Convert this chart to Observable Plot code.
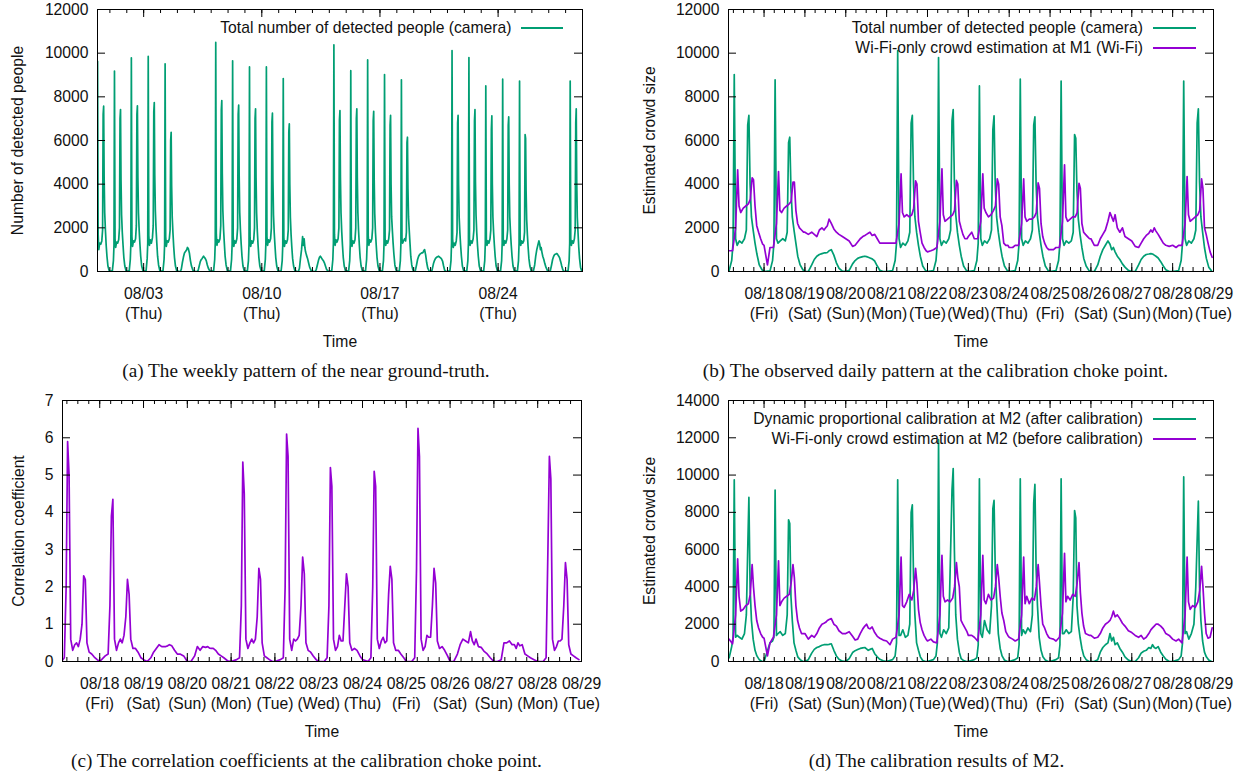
<!DOCTYPE html>
<html><head><meta charset="utf-8">
<script src="https://cdn.jsdelivr.net/npm/d3@7"></script>
<script src="https://cdn.jsdelivr.net/npm/@observablehq/plot@0.6"></script>
<style>
html,body{margin:0;padding:0;background:#fff;}
#page{position:relative;width:1245px;height:775px;overflow:hidden;background:#fff;}
.panel{position:absolute;}
.caption{position:absolute;font-family:"Liberation Serif","Times New Roman",serif;font-size:19.2px;color:#111;white-space:nowrap;transform:translate(-50%,-50%);}
.legtext{position:absolute;font-family:"Liberation Sans",Arial,sans-serif;font-size:15.7px;color:#111;white-space:nowrap;transform:translate(-100%,-50%);}
.legline{position:absolute;height:2px;}
</style></head><body><div id="page"></div>
<script>
// ---------- colours ----------
const GREEN = "#009e73", PURPLE = "#9400d3";

// ---------- sampling hours of the read values (hours of the day) ----------
const hoursCamera  = [0, 3.5, 5.0, 5.8, 6.5, 7.3, 8.2, 9.5, 11, 12.5, 13.6, 14.4, 15.1, 15.8, 16.6, 17.6, 18.7, 19.8, 21.2, 22.8];
const hoursWifi    = [0, 2.0, 3.5, 5.5, 7.3, 8.5, 9.3, 10.3, 11.8, 13.3, 14.8, 15.9, 17.0, 17.8, 18.7, 19.7, 20.8, 22.0, 23.2];
const hoursCorr    = [0, 3.0, 4.6, 5.6, 6.4, 7.2, 8.1, 9.2, 10.3, 11.3, 12.3, 13.3, 14.3, 15.2, 16.1, 17.0, 18.2, 19.6, 21.0, 22.6];
const hoursWeekend = [0, 2, 4, 5.5, 7, 8.5, 10, 11.2, 12.2, 13.2, 14.2, 15.5, 17, 18.5, 20, 22];

// ---------- camera: total number of detected people, 07/31 (Mon) .. 08/28 (Mon) ----------
const cameraRows = [
  [0, 50, 600, 1300, 9630, 1700, 1000, 1300, 1250, 1400, 1900, 7200, 7570, 4300, 2700, 1900, 1200, 700, 250, 60],   // 07/31 Mon
  [0, 40, 500, 1200, 9180, 1500, 1100, 1350, 1300, 1450, 2000, 7000, 7420, 4200, 2600, 1800, 1200, 650, 250, 50],   // 08/01
  [0, 40, 550, 1250, 9790, 1600, 1150, 1400, 1350, 1500, 2100, 7200, 7590, 4300, 2700, 1900, 1250, 700, 250, 60],   // 08/02
  [0, 50, 600, 1300, 9850, 1650, 1200, 1450, 1300, 1550, 2100, 7300, 7740, 4400, 2800, 1950, 1300, 700, 300, 60],   // 08/03
  [0, 40, 550, 1250, 9510, 1600, 1150, 1400, 1350, 1500, 1900, 6000, 6370, 3900, 2500, 1800, 1150, 650, 250, 50],   // 08/04
  [30, 0, 0, 100, 400, 650, 850, 900, 950, 1000, 1100, 1050, 850, 500, 250, 60],                                      // 08/05 Sat
  [20, 0, 0, 50, 250, 450, 550, 600, 650, 700, 650, 600, 500, 300, 150, 30],                                          // 08/06 Sun
  [0, 40, 550, 1300, 10490, 1700, 1200, 1450, 1350, 1500, 2100, 7400, 7830, 4500, 2800, 1950, 1300, 700, 300, 60],  // 08/07
  [0, 40, 550, 1250, 9650, 1600, 1150, 1400, 1300, 1500, 2000, 7200, 7620, 4400, 2700, 1900, 1250, 700, 250, 50],   // 08/08
  [0, 40, 500, 1250, 9370, 1550, 1150, 1400, 1300, 1450, 2000, 7000, 7450, 4300, 2700, 1850, 1200, 650, 250, 50],   // 08/09
  [0, 40, 550, 1300, 9370, 1600, 1200, 1450, 1350, 1500, 2000, 6850, 7250, 4200, 2600, 1800, 1200, 650, 250, 50],   // 08/10
  [0, 40, 500, 1200, 8840, 1550, 1150, 1400, 1300, 1450, 1900, 6400, 6760, 4000, 2500, 1700, 1100, 600, 250, 50],   // 08/11
  [30, 0, 0, 150, 600, 1000, 1600, 1200, 1500, 1100, 900, 750, 600, 400, 200, 50],                                   // 08/12 Sat
  [20, 0, 0, 100, 300, 500, 650, 700, 650, 600, 550, 500, 400, 250, 100, 20],                                        // 08/13 Sun
  [0, 40, 550, 1300, 10380, 1700, 1200, 1450, 1350, 1500, 2000, 6950, 7370, 4300, 2700, 1850, 1200, 650, 250, 50],  // 08/14
  [0, 40, 500, 1250, 9200, 1600, 1150, 1400, 1300, 1450, 2000, 7000, 7450, 4300, 2700, 1850, 1200, 650, 250, 50],   // 08/15
  [0, 40, 550, 1300, 9690, 1650, 1200, 1450, 1350, 1500, 2000, 6900, 7340, 4200, 2650, 1800, 1200, 650, 250, 50],   // 08/16
  [0, 40, 500, 1300, 9020, 1500, 1200, 1400, 1300, 1500, 1900, 6700, 7150, 4000, 2500, 1900, 1300, 800, 300, 80],   // 08/17
  [0, 30, 500, 1300, 8780, 1500, 1300, 1400, 1500, 1400, 1800, 5900, 6150, 3800, 2500, 1900, 1300, 700, 300, 80],   // 08/18
  [0, 0, 300, 550, 700, 780, 820, 850, 850, 870, 950, 1000, 750, 400, 150, 20],                                      // 08/19 Sat
  [0, 50, 350, 500, 600, 650, 680, 700, 680, 650, 620, 580, 480, 250, 60, 0],                                        // 08/20 Sun
  [0, 40, 500, 1300, 10120, 1500, 1100, 1300, 1200, 1400, 1800, 6800, 7150, 4000, 2500, 1800, 1200, 700, 250, 50],  // 08/21
  [0, 40, 500, 1300, 9800, 1500, 1200, 1400, 1300, 1500, 1900, 6900, 7420, 4100, 2600, 1800, 1200, 700, 250, 50],   // 08/22
  [0, 40, 500, 1300, 8500, 1500, 1200, 1400, 1300, 1500, 1900, 6500, 7130, 4000, 2500, 1800, 1200, 700, 250, 50],   // 08/23
  [0, 40, 500, 1300, 8810, 1500, 1200, 1400, 1300, 1500, 1900, 6700, 7080, 4000, 2500, 1800, 1200, 700, 250, 50],   // 08/24
  [0, 40, 500, 1300, 8720, 1500, 1200, 1400, 1300, 1400, 1800, 6270, 6100, 3700, 2400, 1700, 1100, 600, 250, 50],   // 08/25
  [0, 0, 300, 700, 1000, 1200, 1400, 1250, 1000, 1100, 900, 700, 550, 350, 200, 50],                                 // 08/26 Sat
  [0, 0, 300, 550, 700, 780, 800, 820, 800, 750, 700, 620, 450, 250, 80, 0],                                         // 08/27 Sun
  [0, 40, 500, 1300, 8720, 1500, 1200, 1400, 1300, 1500, 1900, 6800, 7450, 4100, 2500, 1800, 1100, 600, 200, 30]    // 08/28
];

// ---------- Wi-Fi-only crowd estimation at M1, 08/17 .. 08/28 ----------
const wifiM1Rows = [
  [1000, 1000, 950, 950, 2000, 4660, 3000, 2700, 2900, 3000, 3100, 3300, 4290, 4200, 3000, 2100, 1800, 1500, 1250],
  [1200, 300, 1100, 1100, 2200, 4580, 2800, 2700, 2900, 3000, 3100, 3200, 4100, 4100, 2800, 2200, 2000, 1900, 1800],
  [1800, 1700, 1800, 1700, 1600, 1900, 2000, 1900, 2000, 2100, 2400, 2200, 1950, 1800, 1700, 1600],
  [1500, 1400, 1150, 1200, 1350, 1500, 1600, 1650, 1700, 1750, 1800, 1650, 1700, 1500, 1300, 1300],
  [1300, 1300, 1300, 1300, 2200, 4470, 2700, 2500, 2600, 2500, 2600, 2900, 4150, 4000, 2300, 1800, 1300, 1100, 950],
  [900, 950, 1000, 1100, 2300, 4700, 2600, 2300, 2400, 2500, 2600, 2800, 4170, 4000, 2300, 2000, 1700, 1500, 1500],
  [1600, 1800, 1500, 1500, 2300, 4470, 2900, 2700, 2500, 2600, 2800, 3000, 4240, 4000, 2500, 2100, 1300, 1200, 1200],
  [1100, 1100, 1200, 1200, 2200, 4240, 2500, 2300, 2400, 2400, 2500, 2700, 4060, 3800, 2200, 1600, 1300, 1100, 1000],
  [1000, 1000, 1100, 1100, 2300, 4890, 2500, 2300, 2400, 2500, 2500, 2700, 4040, 3800, 2200, 1800, 1700, 1600, 1500],
  [1500, 1200, 1200, 1500, 1700, 1900, 2300, 2700, 2500, 2300, 2600, 2000, 1800, 2000, 1600, 1500],
  [1400, 1150, 1100, 1300, 1500, 1650, 1750, 1900, 1800, 2000, 1850, 1700, 1500, 1300, 1200, 1150],
  [1200, 1100, 1200, 1200, 2200, 4350, 2600, 2300, 2400, 2500, 2600, 2800, 4240, 3800, 2000, 1700, 1300, 900, 650]
];

// ---------- correlation coefficient, 08/17 .. 08/28 ----------
const corrRows = [
  [0, 0, 0.1, 2.0, 5.9, 5.0, 0.6, 0.3, 0.45, 0.5, 0.4, 0.6, 1.0, 2.3, 2.2, 0.5, 0.25, 0.2, 0.12, 0.05],
  [0, 0.15, 0.2, 1.5, 3.9, 4.35, 0.6, 0.3, 0.5, 0.6, 0.5, 0.7, 1.2, 2.2, 1.8, 0.6, 0.35, 0.35, 0.25, 0.1],
  [0.05, 0, 0.1, 0.25, 0.35, 0.45, 0.4, 0.4, 0.4, 0.42, 0.45, 0.42, 0.3, 0.2, 0.2, 0.15],
  [0, 0, 0.15, 0.4, 0.3, 0.4, 0.38, 0.4, 0.36, 0.35, 0.35, 0.3, 0.2, 0.15, 0.1, 0.02],
  [0, 0.05, 0.1, 1.5, 5.35, 4.5, 0.6, 0.35, 0.5, 0.6, 0.5, 0.6, 1.2, 2.5, 2.2, 0.5, 0.15, 0.1, 0.05, 0],
  [0, 0.05, 0.1, 2.0, 6.1, 5.5, 0.6, 0.3, 0.6, 0.55, 0.6, 0.7, 1.5, 2.8, 2.35, 0.5, 0.3, 0.25, 0.15, 0.05],
  [0, 0, 0.1, 1.5, 5.2, 4.7, 0.6, 0.3, 0.4, 0.7, 0.55, 0.55, 1.5, 2.35, 2.0, 0.5, 0.3, 0.35, 0.3, 0.15],
  [0.05, 0, 0.1, 2.0, 5.1, 4.7, 0.6, 0.35, 0.55, 0.65, 0.5, 0.55, 1.8, 2.55, 2.2, 0.5, 0.3, 0.3, 0.2, 0.1],
  [0, 0, 0.1, 2.5, 6.25, 5.5, 0.6, 0.3, 0.4, 0.7, 0.65, 0.65, 1.5, 2.5, 2.1, 0.55, 0.35, 0.4, 0.3, 0.15],
  [0, 0, 0.2, 0.45, 0.6, 0.55, 0.5, 0.8, 0.55, 0.45, 0.6, 0.4, 0.38, 0.28, 0.22, 0.1],
  [0, 0, 0.05, 0.5, 0.5, 0.55, 0.45, 0.45, 0.35, 0.5, 0.42, 0.45, 0.2, 0.15, 0.1, 0.05],
  [0, 0, 0.1, 3.0, 5.5, 4.9, 0.6, 0.3, 0.4, 0.55, 0.55, 0.6, 1.5, 2.65, 2.2, 0.45, 0.2, 0.15, 0.1, 0.05]
];

// ---------- dynamic proportional calibration at M2 (after), 08/17 .. 08/28 ----------
const calibratedRows = [
  [0, 200, 800, 1300, 9750, 1300, 1400, 1300, 1200, 1500, 2500, 6000, 8800, 4000, 2200, 1200, 600, 300, 100, 0],
  [0, 1000, 1100, 1300, 9200, 1400, 1500, 1600, 1400, 1500, 2500, 7600, 7400, 3500, 2200, 1000, 600, 250, 100, 0],
  [0, 100, 450, 650, 750, 800, 870, 900, 900, 900, 920, 950, 600, 300, 120, 20],
  [0, 150, 480, 580, 640, 700, 730, 750, 680, 600, 650, 700, 420, 250, 120, 40],
  [0, 100, 300, 1000, 9750, 1400, 1400, 1700, 1300, 1400, 2000, 8000, 8400, 4500, 2500, 1000, 600, 250, 50, 0],
  [0, 100, 300, 1000, 11900, 1500, 1300, 1700, 1500, 1800, 6000, 9200, 10350, 6000, 2500, 1200, 500, 150, 50, 0],
  [0, 100, 200, 900, 9800, 1500, 1300, 2200, 1700, 1500, 3000, 8200, 8640, 5000, 3300, 1500, 700, 300, 80, 0],
  [0, 100, 200, 900, 9800, 1400, 1700, 1500, 1800, 1600, 2500, 8500, 9500, 5000, 3000, 1300, 600, 250, 80, 0],
  [0, 100, 200, 900, 9800, 1500, 1500, 1700, 1500, 1600, 3500, 8100, 7700, 3000, 2000, 1300, 700, 300, 100, 0],
  [0, 0, 100, 500, 750, 900, 1000, 1500, 1100, 1300, 900, 1000, 700, 500, 250, 80],
  [0, 0, 200, 450, 550, 600, 750, 700, 900, 750, 700, 800, 500, 300, 120, 0],
  [0, 100, 300, 1000, 9900, 1500, 1600, 1200, 1500, 2000, 4000, 6500, 8600, 4000, 2200, 1100, 500, 250, 80, 0]
];

// ---------- Wi-Fi-only crowd estimation at M2 (before), 08/17 .. 08/28 ----------
const wifiM2Rows = [
  [1200, 1200, 1200, 950, 2500, 5500, 3500, 2700, 2800, 3000, 3100, 3600, 5200, 4000, 3000, 2200, 1800, 1500, 1300],
  [1250, 300, 1000, 1300, 2500, 5400, 3000, 3200, 3400, 3500, 3600, 4200, 5200, 4500, 3000, 2200, 1800, 1500, 1500],
  [1500, 1200, 1400, 1300, 1500, 1800, 2000, 2050, 2100, 2200, 2250, 2300, 2000, 1900, 1650, 1500],
  [1500, 1600, 1350, 1150, 1200, 1500, 1750, 1900, 2000, 1800, 1750, 1850, 1550, 1350, 1250, 1150],
  [1100, 900, 1200, 1300, 2500, 5600, 3000, 2900, 3200, 3600, 3300, 3800, 5000, 4200, 2800, 2100, 1700, 1400, 1200],
  [1100, 1200, 1050, 1000, 2500, 5700, 3500, 3200, 3300, 3200, 3400, 4000, 5300, 4500, 4000, 2200, 2000, 1800, 1600],
  [1400, 1400, 1300, 1100, 2500, 5700, 3300, 3100, 3600, 3300, 3400, 4000, 5200, 4500, 3500, 2600, 2200, 1600, 1400],
  [1300, 1200, 1100, 1200, 2500, 5600, 3100, 3500, 3100, 3400, 3300, 4000, 5200, 4200, 3000, 2000, 1800, 1500, 1300],
  [1250, 1200, 1100, 1300, 2600, 5800, 3200, 3500, 3300, 3600, 3500, 4200, 5300, 3700, 2600, 1900, 1500, 1450, 1400],
  [1400, 1250, 1300, 1500, 1800, 2000, 2100, 2200, 2400, 2700, 2400, 2500, 2300, 2050, 1900, 1650],
  [1550, 1400, 1300, 1400, 1200, 1300, 1500, 1700, 1800, 1900, 2000, 2000, 1900, 1750, 1500, 1400],
  [1200, 1100, 1200, 1000, 2500, 5600, 3200, 2800, 3000, 2900, 3200, 3800, 5100, 4000, 2600, 1500, 1250, 1300, 1800]
];

// ---------- tick labels ----------
const weekTickDays  = [3, 10, 17, 24];                 // days after 07/31
const weekTickDates = ["08/03", "08/10", "08/17", "08/24"];
const weekTickDow   = ["Thu", "Thu", "Thu", "Thu"];
const dayTickDays   = [18, 19, 20, 21, 22, 23, 24, 25, 26, 27, 28, 29];
const dayTickDates  = ["08/18","08/19","08/20","08/21","08/22","08/23","08/24","08/25","08/26","08/27","08/28","08/29"];
const dayTickDow    = ["Fri","Sat","Sun","Mon","Tue","Wed","Thu","Fri","Sat","Sun","Mon","Tue"];
const ticks12000 = [0, 2000, 4000, 6000, 8000, 10000, 12000];
const ticks14000 = [0, 2000, 4000, 6000, 8000, 10000, 12000, 14000];
const ticks7     = [0, 1, 2, 3, 4, 5, 6, 7];

// day index: days after 07/31 (Mon); weekend when index % 7 is 5 or 6
function build(firstDay, rows, weekdayHours) {
  const pts = [];
  rows.forEach((row, k) => {
    const day = firstDay + k;
    const hours = (day % 7 >= 5) ? hoursWeekend : weekdayHours;
    row.forEach((v, j) => pts.push({t: day + hours[j] / 24, v}));
  });
  return pts;
}
const camera     = build(0, cameraRows, hoursCamera);
const wifiM1     = build(17, wifiM1Rows, hoursWifi);
const corr       = build(17, corrRows, hoursCorr);
const calibrated = build(17, calibratedRows, hoursCamera);
const wifiM2     = build(17, wifiM2Rows, hoursWifi);

const page = document.getElementById("page");

function panel(o) {
  const plotW = o.width - o.mL - o.mR, plotH = o.height - o.mT - o.mB;
  const labels = new Map(o.majorX.map((d, i) => [d, o.dates[i] + "\n(" + o.dows[i] + ")"]));
  const chart = Plot.plot({
    width: o.width, height: o.height,
    marginLeft: o.mL, marginRight: o.mR, marginTop: o.mT, marginBottom: o.mB,
    x: {domain: o.xDomain},
    y: {domain: o.yDomain},
    style: {fontFamily: "'Liberation Sans', Arial, sans-serif", fontSize: "15.7px", color: "#111", background: "white", overflow: "visible"},
    marks: [
      ...o.series.map(s => Plot.line(s.data, {x: "t", y: "v", stroke: s.color, strokeWidth: 1.7, clip: true})),
      Plot.frame({stroke: "#000", strokeWidth: 1}),
      Plot.tickY(o.yTicks, {y: d => d, insetRight: plotW - 8, stroke: "#000"}),
      Plot.tickY(o.yTicks, {y: d => d, insetLeft: plotW - 8, stroke: "#000"}),
      Plot.tickX(o.majorX, {x: d => d, insetTop: plotH - 8, stroke: "#000"}),
      Plot.tickX(o.majorX, {x: d => d, insetBottom: plotH - 8, stroke: "#000"}),
      Plot.tickX(o.minorX, {x: d => d, insetTop: plotH - 4, stroke: "#000"}),
      Plot.tickX(o.minorX, {x: d => d, insetBottom: plotH - 4, stroke: "#000"}),
      Plot.axisY(o.yTicks, {tickSize: 0, tickPadding: 9, tickFormat: d => String(d), label: null}),
      Plot.axisX(o.majorX, {tickSize: 0, tickPadding: 13, tickFormat: d => labels.get(d), lineHeight: 1.3, label: null}),
      Plot.text([o.yLabel], {frameAnchor: "left", dx: o.yLabelDx, rotate: -90, textAnchor: "middle", lineAnchor: "middle"}),
      Plot.text(["Time"], {frameAnchor: "bottom", dy: 70, textAnchor: "middle", lineAnchor: "middle"})
    ]
  });
  chart.classList.add("panel");
  chart.style.left = o.left + "px";
  chart.style.top = o.top + "px";
  page.appendChild(chart);
}

panel({left: 0, top: 0, width: 600, height: 355, mL: 97, mR: 18, mT: 9, mB: 84,
  xDomain: [0.265, 29.0], yDomain: [0, 12000], yTicks: ticks12000,
  yLabel: "Number of detected people", yLabelDx: -80,
  majorX: weekTickDays, dates: weekTickDates, dows: weekTickDow, minorX: d3.range(1, 29),
  series: [{data: camera, color: GREEN}]});

panel({left: 620, top: 0, width: 625, height: 355, mL: 108, mR: 32, mT: 9, mB: 84,
  xDomain: [17.13, 29.0], yDomain: [0, 12000], yTicks: ticks12000,
  yLabel: "Estimated crowd size", yLabelDx: -79,
  majorX: dayTickDays, dates: dayTickDates, dows: dayTickDow, minorX: d3.range(17.25, 29, 0.25),
  series: [{data: camera, color: GREEN}, {data: wifiM1, color: PURPLE}]});

panel({left: 0, top: 390, width: 600, height: 355, mL: 62, mR: 19, mT: 10, mB: 84,
  xDomain: [17.15, 29.0], yDomain: [0, 7], yTicks: ticks7,
  yLabel: "Correlation coefficient", yLabelDx: -44,
  majorX: dayTickDays, dates: dayTickDates, dows: dayTickDow, minorX: d3.range(17.25, 29, 0.25),
  series: [{data: corr, color: PURPLE}]});

panel({left: 620, top: 390, width: 625, height: 355, mL: 108, mR: 32, mT: 10, mB: 84,
  xDomain: [17.13, 29.0], yDomain: [0, 14000], yTicks: ticks14000,
  yLabel: "Estimated crowd size", yLabelDx: -79,
  majorX: dayTickDays, dates: dayTickDates, dows: dayTickDow, minorX: d3.range(17.25, 29, 0.25),
  series: [{data: calibrated, color: GREEN}, {data: wifiM2, color: PURPLE}]});

// ---------- legends ----------
function legend(entries, textRight, x1, x2) {
  for (const e of entries) {
    const t = document.createElement("div");
    t.className = "legtext"; t.textContent = e.label;
    t.style.left = textRight + "px"; t.style.top = e.y + "px";
    page.appendChild(t);
    const l = document.createElement("div");
    l.className = "legline"; l.style.background = e.color;
    l.style.left = x1 + "px"; l.style.width = (x2 - x1) + "px"; l.style.top = (e.y - 1) + "px";
    page.appendChild(l);
  }
}
legend([{label: "Total number of detected people (camera)", color: GREEN, y: 28}], 511.5, 521, 563);
legend([{label: "Total number of detected people (camera)", color: GREEN, y: 28},
        {label: "Wi-Fi-only crowd estimation at M1 (Wi-Fi)", color: PURPLE, y: 48}], 1143, 1153, 1196);
legend([{label: "Dynamic proportional calibration at M2 (after calibration)", color: GREEN, y: 419},
        {label: "Wi-Fi-only crowd estimation at M2 (before calibration)", color: PURPLE, y: 439}], 1143, 1153, 1196);

// ---------- captions ----------
const captions = [
  {text: "(a) The weekly pattern of the near ground-truth.", x: 306, y: 371},
  {text: "(b) The observed daily pattern at the calibration choke point.", x: 935.5, y: 371},
  {text: "(c) The correlation coefficients at the calibration choke point.", x: 306.5, y: 761},
  {text: "(d) The calibration results of M2.", x: 936.5, y: 761}
];
for (const c of captions) {
  const d = document.createElement("div");
  d.className = "caption"; d.textContent = c.text;
  d.style.left = c.x + "px"; d.style.top = c.y + "px";
  page.appendChild(d);
}
</script></body></html>
